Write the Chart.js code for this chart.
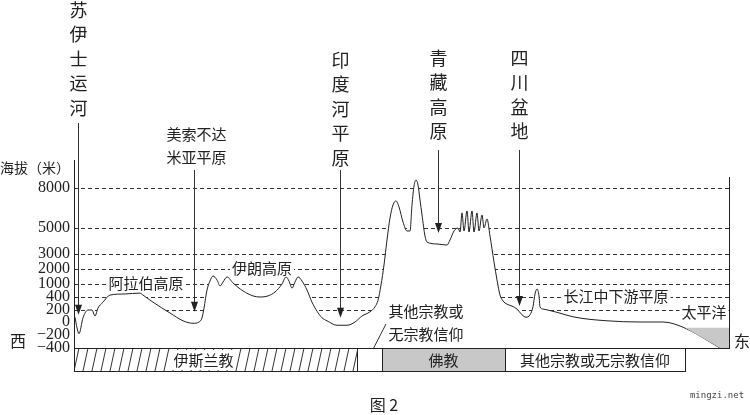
<!DOCTYPE html>
<html>
<head>
<meta charset="utf-8">
<script src="https://cdn.jsdelivr.net/npm/chart.js@4"></script>
<style>
body { margin: 0; background: #fff; }
canvas { display: block; }
</style>
</head>
<body>
<canvas id="profileChart" width="750" height="415"></canvas>
<script>
// terrain profile from west to east
var distance = [1, 3, 5, 9, 14, 18, 21, 24, 29, 36, 51, 66, 69, 79, 96, 109, 119, 125, 128, 130,
    133, 136, 139, 143, 146, 149, 153, 159, 169, 179, 186, 194, 201, 208, 212, 215, 218, 221, 224, 228,
    233, 238, 243, 248, 253, 263, 273, 281, 288, 296, 301, 304, 307, 310, 313, 316, 319, 322, 325, 329,
    333, 336, 338, 340, 342, 344, 346, 348, 351, 353, 363, 373, 376, 380, 384, 386, 388, 390, 393, 395,
    398, 400, 403, 405, 408, 410, 413, 416, 420, 423, 426, 429, 433, 438, 443, 448, 452, 456, 459, 461,
    463, 465, 466, 469, 481, 501, 533, 566, 589, 609, 646];
var elevation = [80, -90, -180, 70, 200, 200, 100, 230, 320, 490, 540, 580, 490, 320, 150, 20, -20, 0, 70, 230,
    720, 1200, 1530, 1270, 910, 1130, 1470, 1070, 680, 450, 400, 450, 630, 1000, 1470, 1200, 810, 1130, 1470, 1200,
    720, 320, 180, 70, 20, -50, -50, 0, 100, 170, 250, 350, 950, 2270, 4080, 5750, 6730, 7030, 6580, 5450,
    4770, 4770, 6730, 8150, 8600, 8230, 7100, 5980, 4380, 3920, 3770, 3690, 4080, 4770, 5000, 4690, 6130, 4770, 6280, 4690,
    6280, 4690, 6130, 4770, 5980, 5000, 5680, 4380, 2470, 1270, 490, 340, 290, 260, 215, 120, 80, 120, 250, 540,
    770, 450, 250, 215, 170, 80, 20, 0, 0, -80, -400];

// Pacific Ocean wedge
var seaDistance = [611, 656, 656, 646];
var seaElevation = [-90, -90, -400, -400];

// y axis (not linear)
var tickElev = [-400, -200, 0, 200, 400, 1000, 2000, 3000, 5000, 8000];
var tickLabels = ['−400', '−200', '0', '200', '400', '1000', '2000', '3000', '5000', '8000'];
var tickStep = [0, 13, 26, 38, 51, 64, 79, 94, 120, 160];

// arrows
var placeNames = ['苏伊士运河', '美索不达米亚平原', '印度河平原', '青藏高原', '四川盆地'];
var placeDistance = [4, 120, 266, 364, 445];
var placeElevation = [120, 170, 70, 4620, 260];

// religion band under the axis
var religionNames = ['伊斯兰教', '', '佛教', '其他宗教或无宗教信仰'];
var religionFrom = [0, 283, 308, 431];
var religionTo = [283, 308, 431, 611];

function elevToU(e) {
    var n = tickElev.length;
    for (var i = 0; i < n - 1; i++) {
        if (e <= tickElev[i + 1]) {
            return tickStep[i] + (e - tickElev[i]) / (tickElev[i + 1] - tickElev[i]) * (tickStep[i + 1] - tickStep[i]);
        }
    }
    return tickStep[n - 1] + (e - tickElev[n - 1]) / (tickElev[n - 1] - tickElev[n - 2]) * (tickStep[n - 1] - tickStep[n - 2]);
}

var terrain = distance.map(function (d, i) { return {x: d, y: elevToU(elevation[i])}; });
var sea = seaDistance.map(function (d, i) { return {x: d, y: elevToU(seaElevation[i])}; });

var cjk = '"Noto Sans CJK SC", sans-serif';

function hatchPattern(ctx, top, h) {
    var c = document.createElement('canvas');
    c.width = 9; c.height = h;
    var p = c.getContext('2d');
    p.strokeStyle = '#333';
    p.lineWidth = 1;
    p.beginPath();
    p.moveTo(2, h); p.lineTo(7, 0);
    p.stroke();
    var pat = ctx.createPattern(c, 'repeat');
    if (pat.setTransform) pat.setTransform(new DOMMatrix().translate(0, top));
    return pat;
}

function textBox(ctx, txt, x, y, size) {
    ctx.font = size + 'px ' + cjk;
    var w = ctx.measureText(txt).width;
    ctx.fillStyle = '#fff';
    ctx.fillRect(x - w / 2 - 2, y - size / 2 - 1, w + 4, size + 2);
    ctx.fillStyle = '#222';
    ctx.fillText(txt, x, y);
}

var extras = {
    id: 'extras',
    beforeDraw: function (chart) {
        var ctx = chart.ctx;
        ctx.save();
        ctx.fillStyle = '#fff';
        ctx.fillRect(0, 0, chart.width, chart.height);
        ctx.restore();
    },
    afterDatasetsDraw: function (chart) {
        var ctx = chart.ctx, xs = chart.scales.x, ys = chart.scales.y, area = chart.chartArea;
        ctx.save();
        ctx.textAlign = 'center';
        ctx.textBaseline = 'middle';

        // frame
        ctx.strokeStyle = '#222';
        ctx.lineWidth = 1;
        ctx.beginPath();
        ctx.moveTo(area.left + 0.5, area.top);
        ctx.lineTo(area.left + 0.5, area.bottom);
        ctx.moveTo(area.right - 0.5, ys.getPixelForValue(171));
        ctx.lineTo(area.right - 0.5, area.bottom);
        ctx.moveTo(area.left, area.bottom + 0.5);
        ctx.lineTo(area.right, area.bottom + 0.5);
        ctx.stroke();

        // arrows with labels
        var lineTop = [123, 170, 170, 150, 150];
        var textTop = [10, 0, 60, 58, 58];
        placeNames.forEach(function (name, i) {
            var x = Math.round(xs.getPixelForValue(placeDistance[i])) + 0.5;
            var tip = ys.getPixelForValue(elevToU(placeElevation[i]));
            ctx.strokeStyle = '#333';
            ctx.lineWidth = 1;
            ctx.beginPath();
            ctx.moveTo(x, lineTop[i]);
            ctx.lineTo(x, tip - 8);
            ctx.stroke();
            ctx.fillStyle = '#222';
            ctx.beginPath();
            ctx.moveTo(x - 3.5, tip - 10);
            ctx.lineTo(x + 3.5, tip - 10);
            ctx.lineTo(x, tip);
            ctx.closePath();
            ctx.fill();
            ctx.fillStyle = '#222';
            if (i === 1) {
                ctx.font = '15px ' + cjk;
                ctx.fillText(name.slice(0, 4), x + 2, 134);
                ctx.fillText(name.slice(4), x + 2, 157);
            } else {
                ctx.font = '18px ' + cjk;
                for (var k = 0; k < name.length; k++) {
                    ctx.fillText(name[k], x, textTop[i] + k * 24.5);
                }
            }
        });

        // region names
        textBox(ctx, '阿拉伯高原', 146, 283, 15);
        textBox(ctx, '伊朗高原', 262, 268, 15);
        textBox(ctx, '长江中下游平原', 616, 296, 15);
        textBox(ctx, '太平洋', 704, 312, 15);
        textBox(ctx, '其他宗教或', 426, 311, 15);
        textBox(ctx, '无宗教信仰', 426, 334, 15);
        ctx.strokeStyle = '#333';
        ctx.beginPath();
        ctx.moveTo(367, 361);
        ctx.lineTo(386, 324);
        ctx.stroke();

        ctx.font = '16px ' + cjk;
        ctx.fillStyle = '#222';
        ctx.fillText('西', 18, 341);
        ctx.fillText('东', 742, 341);
        ctx.textAlign = 'left';
        ctx.font = '14px ' + cjk;
        ctx.fillText('海拔（米）', 0, 168);
        ctx.textAlign = 'center';
        ctx.font = '16px ' + cjk;
        ctx.fillText('图 2', 384, 405);
        ctx.font = '9px "DejaVu Sans Mono", monospace';
        ctx.fillStyle = '#444';
        ctx.fillText('mingzi.net', 717, 396);
        ctx.restore();
    },
    afterDraw: function (chart) {
        var ctx = chart.ctx, xs = chart.scales.x, area = chart.chartArea;
        var top = area.bottom, h = 23;
        var fills = [hatchPattern(ctx, top, h), '#fff', '#c8c8c8', '#fff'];
        ctx.save();
        ctx.textAlign = 'center';
        ctx.textBaseline = 'middle';
        religionNames.forEach(function (name, i) {
            var x0 = Math.round(xs.getPixelForValue(religionFrom[i]));
            var x1 = Math.round(xs.getPixelForValue(religionTo[i]));
            ctx.fillStyle = fills[i];
            ctx.fillRect(x0, top, x1 - x0, h);
            ctx.strokeStyle = '#222';
            ctx.lineWidth = 1;
            ctx.strokeRect(x0 + 0.5, top + 0.5, x1 - x0, h);
            if (name) {
                var cx = (x0 + x1) / 2 - (i === 0 ? 12 : 0);
                ctx.font = '15px ' + cjk;
                if (i === 0) {
                    var w = ctx.measureText(name).width;
                    ctx.fillStyle = '#fff';
                    ctx.fillRect(cx - w / 2 - 1, top + 2, w + 2, h - 3);
                }
                ctx.fillStyle = '#222';
                ctx.fillText(name, cx, top + h / 2 + 1);
            }
        });
        ctx.restore();
    }
};

new Chart(document.getElementById('profileChart'), {
    type: 'line',
    data: {
        datasets: [{
            label: '太平洋',
            data: sea,
            order: 0,
            fill: 'shape',
            backgroundColor: '#c8c8c8',
            borderWidth: 0,
            borderColor: 'rgba(0,0,0,0)',
            pointRadius: 0,
            tension: 0
        }, {
            label: '海拔',
            data: terrain,
            order: 1,
            fill: 'start',
            backgroundColor: '#fff',
            borderColor: '#222',
            borderWidth: 1,
            pointRadius: 0,
            cubicInterpolationMode: 'monotone'
        }]
    },
    options: {
        responsive: false,
        devicePixelRatio: 1,
        animation: false,
        layout: { padding: { left: 0, right: 20, top: 160, bottom: 67 } },
        plugins: { legend: { display: false }, tooltip: { enabled: false } },
        scales: {
            x: { type: 'linear', min: 0, max: 656, display: false },
            y: {
                type: 'linear',
                min: 0,
                max: 188,
                afterBuildTicks: function (scale) {
                    scale.ticks = tickElev.map(function (e) { return {value: elevToU(e)}; });
                },
                afterFit: function (scale) { scale.width = 74; },
                border: { display: false, dash: [4, 3] },
                grid: {
                    drawTicks: false,
                    color: function (c) {
                        return (c.index !== undefined && tickElev[c.index] >= 200) ? '#333' : 'rgba(0,0,0,0)';
                    }
                },
                ticks: {
                    autoSkip: false,
                    padding: 4,
                    color: '#222',
                    font: { family: '"Liberation Serif", serif', size: 16 },
                    callback: function (v, i) { return tickLabels[i]; }
                }
            }
        }
    },
    plugins: [extras]
});
</script>
</body>
</html>
